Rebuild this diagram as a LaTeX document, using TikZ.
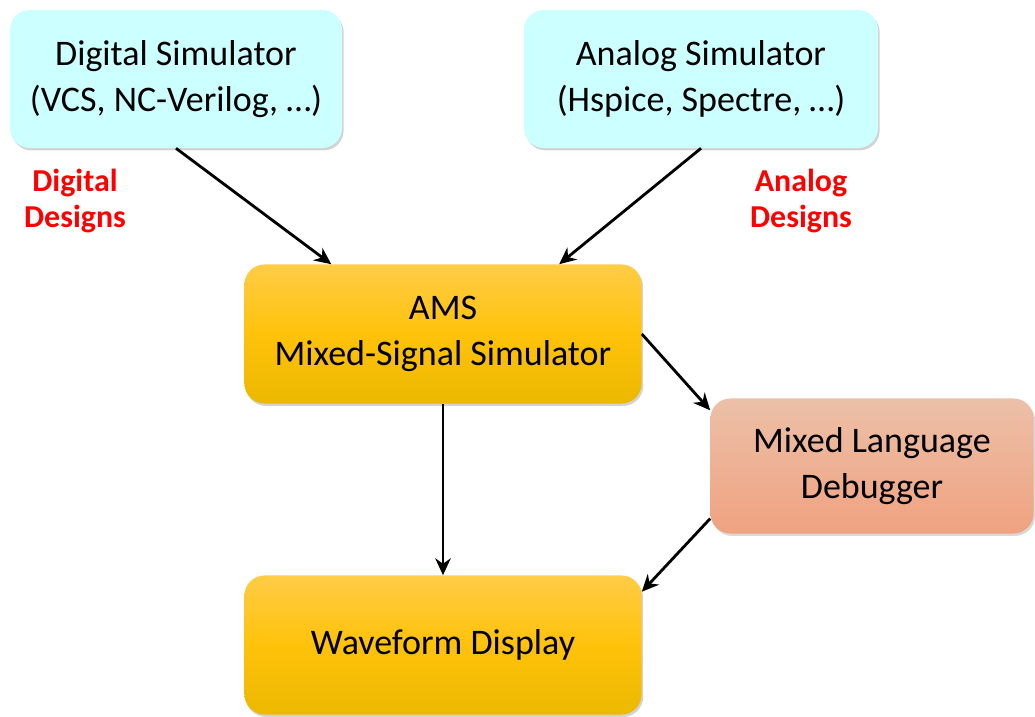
\documentclass[tikz,border=0pt]{standalone}
\usepackage{fontspec}
\setmainfont{Carlito}
\usetikzlibrary{arrows.meta,shadows}

\definecolor{simcyan}{RGB}{204,255,255}
\definecolor{amstop}{RGB}{255,204,70}
\definecolor{amsmid}{RGB}{255,194,10}
\definecolor{amsbot}{RGB}{236,184,0}
\definecolor{dbgtop}{RGB}{236,192,168}
\definecolor{dbgbot}{RGB}{240,162,128}
\definecolor{designred}{RGB}{255,0,0}

\tikzset{
  simbox/.style={rounded corners=0.5cm, fill=simcyan, align=center,
    font=\fontsize{25.6}{32.7}\selectfont,
    drop shadow={shadow xshift=0.04cm, shadow yshift=-0.06cm, opacity=0.35}},
  amsbox/.style={rounded corners=0.5cm, top color=amstop, bottom color=amsbot,
    middle color=amsmid, align=center, font=\fontsize{25.6}{32.7}\selectfont,
    drop shadow={shadow xshift=0.04cm, shadow yshift=-0.06cm, opacity=0.35}},
  dbgbox/.style={rounded corners=0.5cm, top color=dbgtop, bottom color=dbgbot,
    align=center, font=\fontsize{25.6}{32.7}\selectfont,
    drop shadow={shadow xshift=0.04cm, shadow yshift=-0.06cm, opacity=0.3}},
  designlabel/.style={text=designred, align=center,
    font=\fontsize{22.7}{26.2}\selectfont\bfseries},
  flow/.style={line width=2pt, -{Stealth[length=12pt,width=11pt]}}
}

\begin{document}
\begin{tikzpicture}[x=0.025cm, y=-0.025cm]
    \useasboundingbox (0,0) rectangle (1035,717);

    \node[simbox, minimum width=8.3cm, minimum height=3.45cm] (dig) at (176,79)
        {Digital Simulator\\(VCS, NC-Verilog, …)};
    \node[simbox, minimum width=8.85cm, minimum height=3.45cm] (ana) at (701,79)
        {Analog Simulator\\(Hspice, Spectre, …)};

    \node[designlabel] (diglbl) at (75,201) {Digital\\Designs};
    \node[designlabel] (analbl) at (801,201) {Analog\\Designs};

    \node[amsbox, minimum width=9.925cm, minimum height=3.475cm] (ams) at (443,334)
        {AMS\\Mixed-Signal Simulator};
    \node[dbgbox, minimum width=8.075cm, minimum height=3.375cm] (dbg) at (872,466)
        {Mixed Language\\Debugger};
    \node[amsbox, minimum width=9.925cm, minimum height=3.475cm] (wave) at (443,645)
        {Waveform Display};

    \draw[flow] (dig.south) -- (ams.148);
    \draw[flow] (ana.south) -- (ams.31);
    \draw[flow] (ams.south) -- (wave.north);
    \draw[flow] (ams.east) -- (dbg.161);
    \draw[flow] (dbg.198) -- (wave.15);
\end{tikzpicture}
\end{document}
